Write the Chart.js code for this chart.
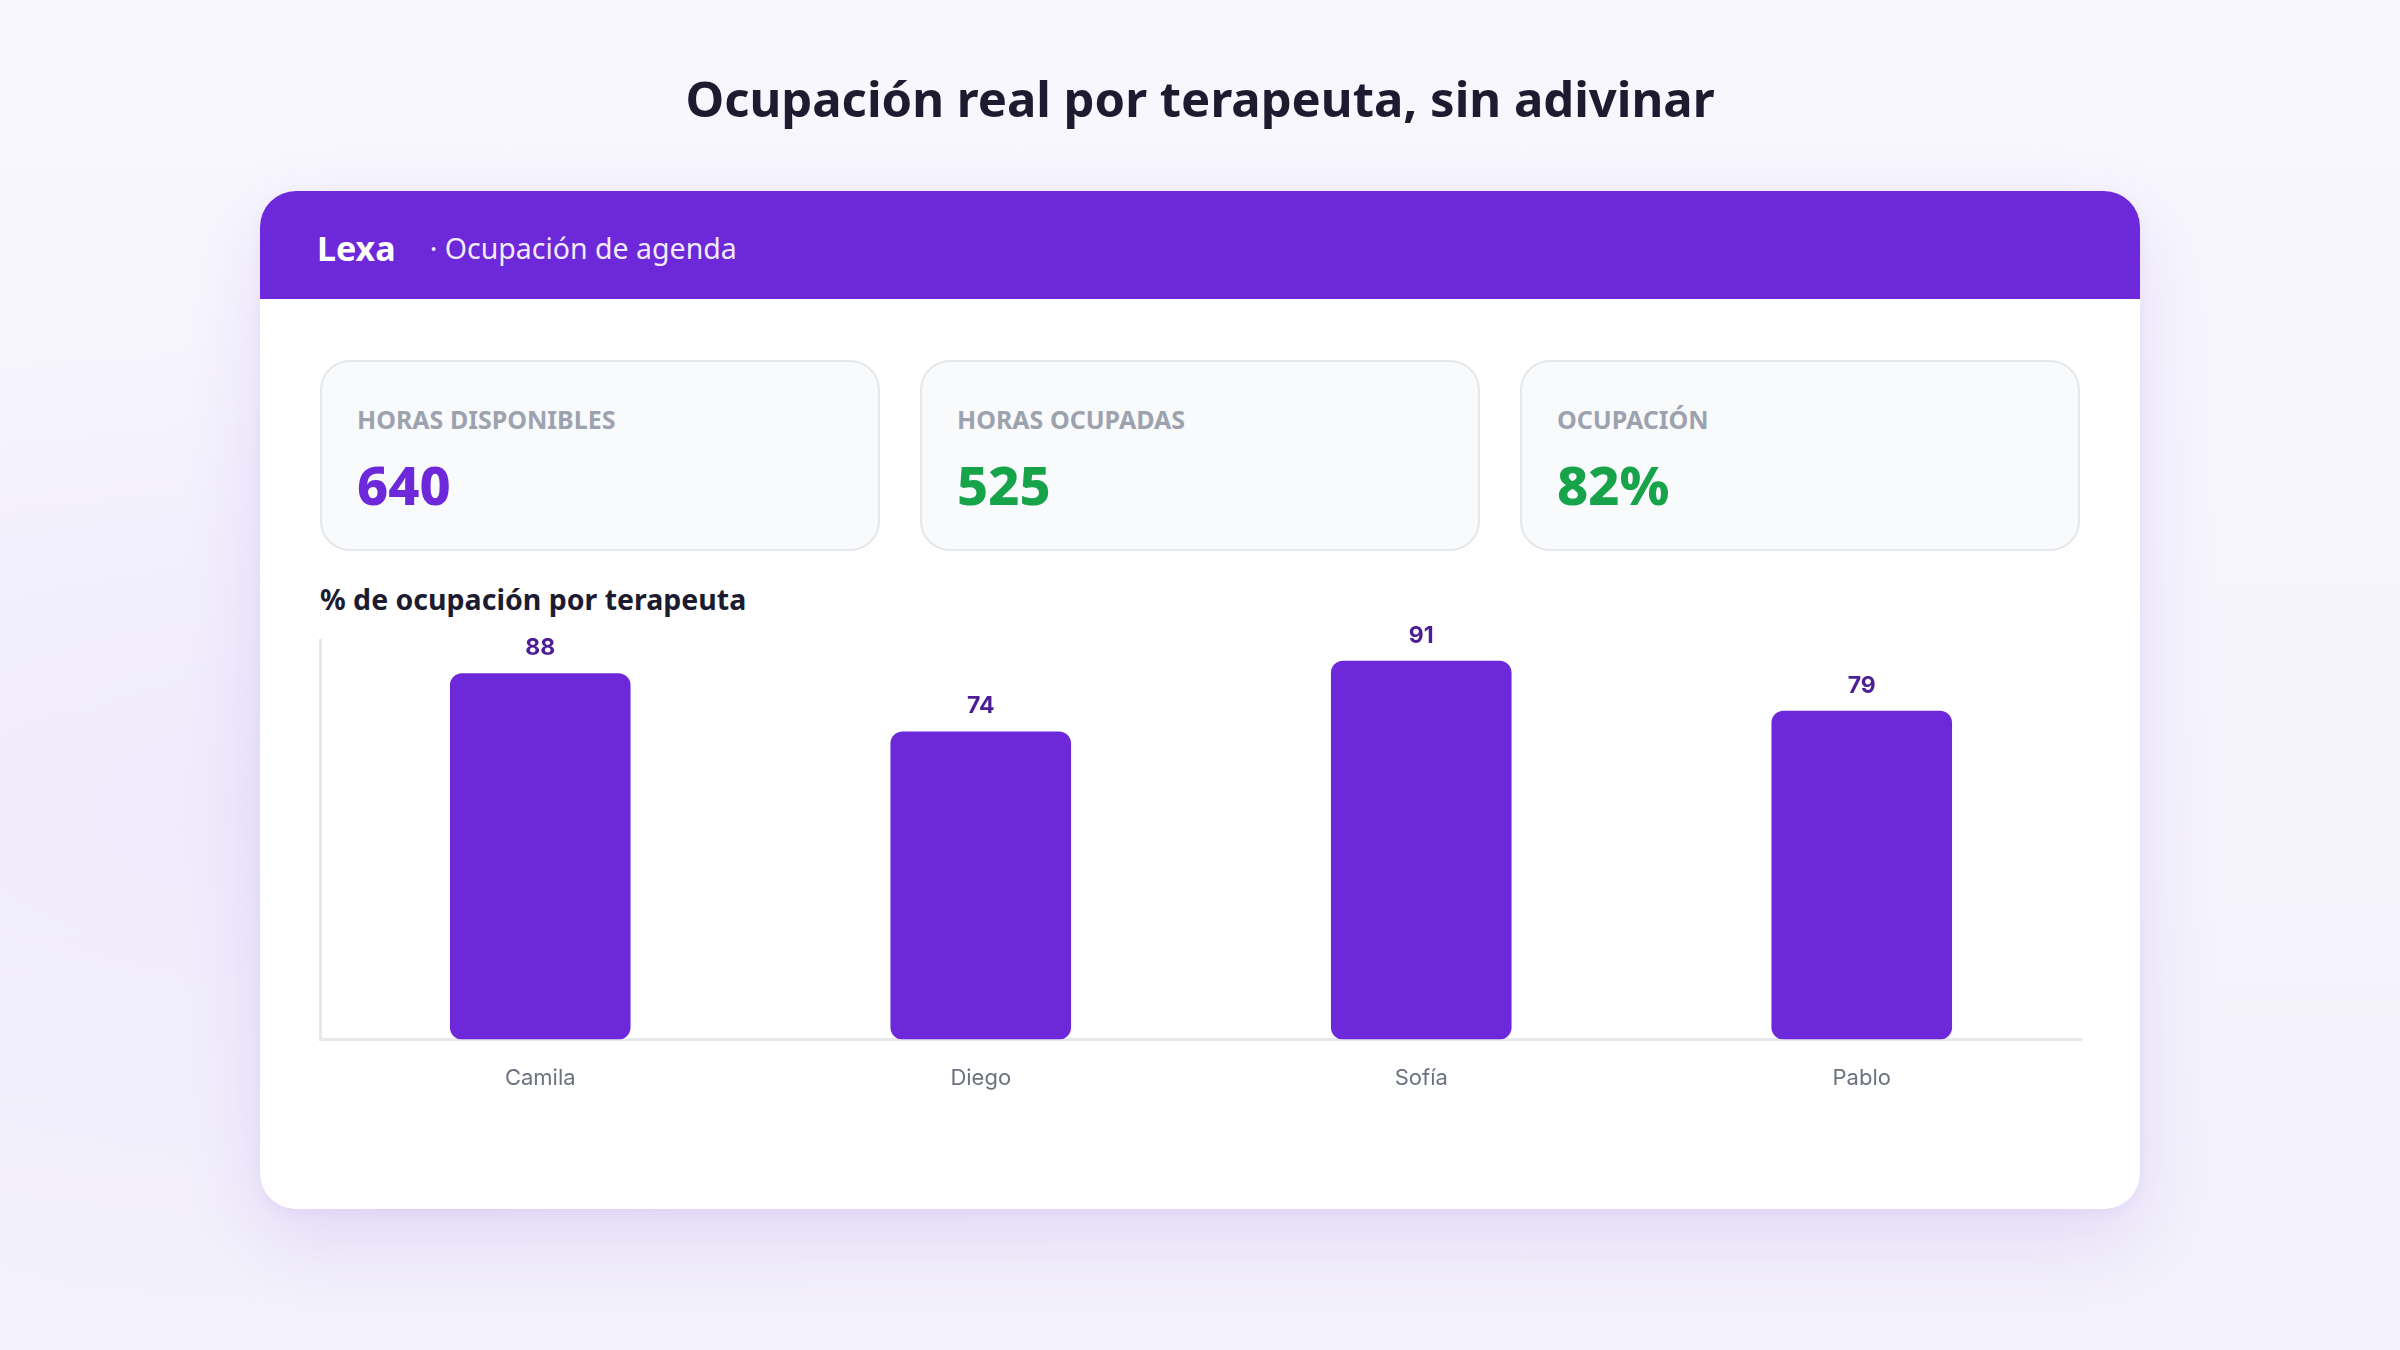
<!DOCTYPE html>
<html lang="es">
<head>
<meta charset="utf-8">
<title>Ocupación real por terapeuta</title>
<script src="https://cdn.jsdelivr.net/npm/chart.js@4.4.1/dist/chart.umd.min.js"></script>
<style>
  * { box-sizing: border-box; margin: 0; padding: 0; }
  html, body { width: 2400px; height: 1350px; overflow: hidden; }
  body {
    font-family: 'Noto Sans', 'Open Sans', sans-serif;
    background: radial-gradient(ellipse at 15% 60%, #efeafc 0%, rgba(239,234,252,0) 45%),
                linear-gradient(180deg, #f8f7fe 0%, #f3f1fb 100%);
    position: relative;
  }
  h1 {
    position: absolute; left: 0; right: 0; top: 64px;
    text-align: center; font-size: 49px; font-weight: 700; color: #1d1b2f;
    line-height: 68px;
  }
  .card {
    position: absolute; left: 260px; top: 191px; width: 1880px; height: 1018px;
    background: #fff; border-radius: 36px; overflow: hidden;
    box-shadow: 0 30px 80px rgba(109, 40, 217, 0.12), 0 4px 14px rgba(109, 40, 217, 0.05);
  }
  .band {
    height: 108px; background: #6d28d9; color: #fff;
    display: flex; align-items: center; padding: 6px 0 0 57px;
  }
  .band .brand { font-size: 34px; font-weight: 700; margin-right: 34px; }
  .band .sub { font-size: 28.5px; color: rgba(255,255,255,0.93); }
  .kpis {
    position: absolute; left: 60px; top: 169px; display: flex; gap: 40px;
  }
  .kpi {
    width: 560px; height: 191px; background: #f9fafb;
    border: 2px solid #e5e7eb; border-radius: 30px; padding: 39px 0 0 35px;
  }
  .kpi .lbl { font-size: 25px; font-weight: 700; color: #9ca3af; line-height: 36px; }
  .kpi .val { font-size: 54px; font-weight: 800; line-height: 70px; margin-top: 12px; }
  .purple { color: #6d28d9; }
  .green { color: #16a34a; }
  .ctitle {
    position: absolute; left: 60px; top: 388px;
    font-size: 28.5px; font-weight: 700; color: #1d1b2f; line-height: 40px;
  }
  .chartbox { position: absolute; left: 58px; top: 420px; width: 1764px; height: 499px; }
</style>
</head>
<body>
<h1>Ocupación real por terapeuta, sin adivinar</h1>
<div class="card">
  <div class="band"><span class="brand">Lexa</span><span class="sub">· Ocupación de agenda</span></div>
  <div class="kpis">
    <div class="kpi"><div class="lbl">HORAS DISPONIBLES</div><div class="val purple" id="k1"></div></div>
    <div class="kpi"><div class="lbl">HORAS OCUPADAS</div><div class="val green" id="k2"></div></div>
    <div class="kpi"><div class="lbl">OCUPACIÓN</div><div class="val green" id="k3"></div></div>
  </div>
  <div class="ctitle">% de ocupación por terapeuta</div>
  <div class="chartbox"><canvas id="occ"></canvas></div>
</div>
<script>
// datos
const therapists = ['Camila', 'Diego', 'Sofía', 'Pablo'];
const occupancy = [88, 74, 91, 79];
const hoursAvailable = 640;
const hoursBooked = 525;
const occupancyTotal = 82;

document.getElementById('k1').textContent = hoursAvailable;
document.getElementById('k2').textContent = hoursBooked;
document.getElementById('k3').textContent = occupancyTotal + '%';

// etiqueta encima de cada barra
const valueLabels = {
  id: 'valueLabels',
  afterDatasetsDraw(chart) {
    const ctx = chart.ctx;
    const meta = chart.getDatasetMeta(0);
    ctx.save();
    ctx.font = '700 23px Inter, sans-serif';
    ctx.fillStyle = '#4c1d95';
    ctx.textAlign = 'center';
    ctx.textBaseline = 'middle';
    meta.data.forEach((bar, i) => {
      ctx.fillText(occupancy[i], bar.x, bar.y - 25);
    });
    ctx.restore();
  }
};

new Chart(document.getElementById('occ'), {
  type: 'bar',
  data: {
    labels: therapists,
    datasets: [{
      data: occupancy,
      backgroundColor: '#6d28d9',
      borderRadius: 12,
      borderSkipped: false,
      barPercentage: 0.41,
      categoryPercentage: 1
    }]
  },
  options: {
    responsive: true,
    maintainAspectRatio: false,
    animation: false,
    layout: { padding: { top: 29, left: 2 } },
    plugins: { legend: { display: false }, tooltip: { enabled: false } },
    scales: {
      x: {
        grid: { display: false },
        border: { color: '#e5e7eb', width: 3 },
        ticks: { color: '#6b7280', font: { family: 'Inter', size: 22 }, padding: 18 }
      },
      y: {
        min: 0,
        max: Math.max(...occupancy) + 5,
        grid: { display: false, drawTicks: false },
        border: { color: '#e5e7eb', width: 3 },
        ticks: { display: false }
      }
    }
  },
  plugins: [valueLabels]
});
</script>
</body>
</html>
